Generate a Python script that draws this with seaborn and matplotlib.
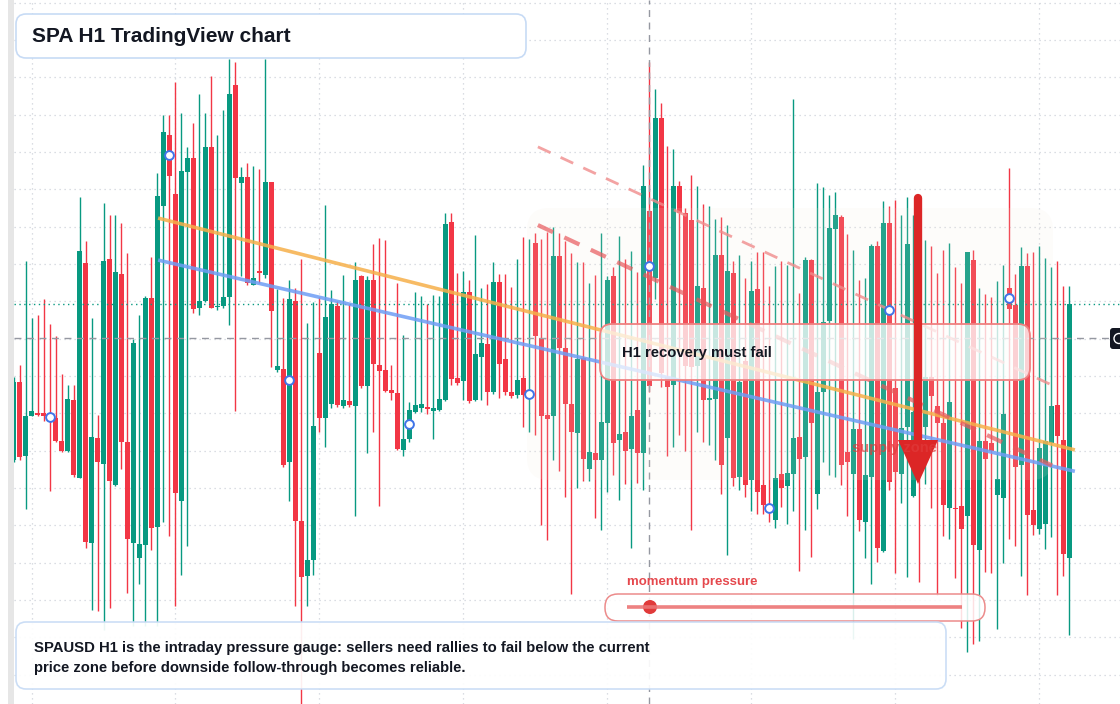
import numpy as np
import pandas as pd
import matplotlib.pyplot as plt
import seaborn as sns
from matplotlib.patches import FancyBboxPatch, Polygon, Circle, Rectangle

# ---- OHLC of the H1 candles (price units of the chart) ----
opens = [9.47, 11.47, 9.57, 10.60, 10.68, 10.68, 10.65, 10.54, 9.95, 9.70,
         11.00, 9.00, 14.52, 7.33, 10.03, 9.37, 14.63, 8.83, 14.24, 9.92,
         7.33, 6.95, 7.28, 13.63, 7.75, 16.00, 17.82, 16.30, 8.42, 16.87,
         17.22, 13.38, 13.55, 17.51, 13.39, 13.42, 13.65, 19.10, 16.59, 16.74,
         13.97, 14.29, 14.22, 16.61, 11.78, 11.80, 9.42, 13.55, 7.89, 6.48,
         6.90, 12.20, 10.55, 10.90, 13.43, 10.85, 10.98, 10.85, 14.19, 11.37,
         14.09, 11.90, 11.77, 11.26, 11.18, 9.73, 10.00, 10.70, 10.80, 10.82,
         10.73, 10.75, 11.00, 15.58, 11.58, 11.48, 13.78, 11.00, 12.12, 12.44,
         11.22, 14.04, 12.05, 11.22, 11.14, 11.57, 11.16, 15.03, 12.60, 10.63,
         10.58, 14.70, 12.33, 10.90, 10.15, 12.08, 9.24, 9.63, 9.47, 10.40,
         14.19, 9.98, 10.18, 9.75, 10.75, 9.63, 15.86, 14.14, 18.25, 11.59,
         11.38, 16.50, 15.80, 15.63, 11.88, 13.88, 11.01, 11.03, 14.73, 10.03,
         14.28, 9.02, 12.00, 8.95, 13.85, 8.83, 8.25, 7.93, 9.10, 8.80,
         9.10, 10.05, 9.55, 14.60, 8.58, 11.22, 13.03, 15.40, 15.72, 9.68,
         9.10, 10.27, 7.88, 9.02, 14.95, 7.13, 15.55, 11.30, 9.10, 10.30,
         8.53, 11.20, 10.32, 11.60, 10.85, 10.40, 8.22, 8.23, 8.28, 8.02,
         14.60, 7.15, 9.95, 9.90, 8.57, 8.48, 13.88, 13.45, 9.33, 14.45,
         8.18, 7.70, 7.82, 9.90, 10.88, 9.98, 6.95]
highs = [11.60, 11.90, 14.57, 13.11, 13.18, 13.60, 12.95, 12.65, 11.67, 11.39,
         11.39, 16.22, 15.09, 13.11, 10.62, 16.07, 15.76, 15.76, 15.55, 14.78,
         12.57, 13.19, 13.68, 14.67, 16.85, 18.32, 18.32, 19.18, 18.38, 17.50,
         18.12, 18.87, 18.38, 19.33, 17.82, 18.45, 19.78, 19.68, 17.00, 17.10,
         17.02, 16.94, 19.78, 16.61, 13.85, 13.63, 14.10, 13.88, 14.63, 12.98,
         13.52, 13.65, 16.02, 13.83, 13.55, 14.22, 13.47, 14.55, 14.22, 14.19,
         15.02, 15.17, 15.12, 11.90, 14.00, 12.67, 10.95, 13.78, 13.68, 13.47,
         13.70, 13.68, 15.80, 15.80, 14.28, 14.32, 14.08, 15.24, 13.87, 13.98,
         14.55, 14.24, 14.24, 13.90, 14.62, 15.19, 15.14, 15.30, 15.14, 15.32,
         15.44, 15.30, 15.08, 14.78, 14.55, 14.55, 14.00, 14.22, 15.30, 14.20,
         14.42, 15.22, 14.62, 14.83, 14.30, 17.04, 19.70, 19.00, 18.63, 17.53,
         17.45, 16.62, 15.95, 16.78, 16.50, 16.03, 15.98, 15.65, 15.70, 15.50,
         14.57, 14.73, 14.13, 14.57, 14.82, 14.82, 13.93, 14.45, 14.57, 14.48,
         18.73, 13.75, 14.68, 14.62, 16.58, 16.48, 16.27, 16.35, 15.77, 15.27,
         14.85, 14.10, 14.13, 15.02, 15.10, 16.13, 16.00, 16.15, 15.77, 16.22,
         15.75, 14.80, 15.12, 14.97, 14.28, 14.85, 15.05, 14.42, 14.02, 14.82,
         14.85, 13.88, 13.72, 13.64, 14.07, 14.47, 16.97, 14.23, 14.93, 14.78,
         14.82, 14.95, 14.65, 14.42, 14.57, 13.94, 13.93]
lows = [9.40, 9.47, 8.20, 10.58, 10.58, 10.47, 8.67, 9.92, 9.68, 9.68,
        9.03, 9.00, 7.20, 5.60, 5.58, 5.10, 5.67, 8.80, 9.23, 6.05,
        5.20, 6.28, 5.20, 7.15, 5.20, 7.88, 7.50, 5.70, 6.50, 7.25,
        13.25, 13.20, 13.52, 13.37, 13.32, 13.38, 12.92, 10.72, 14.20, 13.95,
        13.95, 14.00, 14.15, 11.84, 11.72, 9.28, 8.42, 5.72, 3.10, 5.72,
        6.50, 10.18, 9.80, 10.80, 10.82, 10.80, 10.82, 8.03, 11.30, 9.63,
        10.17, 8.28, 11.20, 11.00, 9.73, 9.57, 9.93, 10.68, 10.70, 10.65,
        10.00, 10.73, 10.98, 11.40, 11.40, 11.00, 10.92, 10.98, 11.00, 10.88,
        11.15, 11.05, 11.12, 11.05, 11.05, 10.30, 10.18, 10.10, 7.80, 7.40,
        9.47, 9.18, 8.50, 6.02, 8.75, 8.92, 8.92, 7.97, 7.67, 8.65,
        9.08, 8.43, 8.85, 7.20, 8.88, 8.70, 11.20, 13.60, 11.35, 9.57,
        9.80, 10.10, 9.70, 7.65, 10.18, 9.93, 9.85, 9.45, 8.60, 7.03,
        8.80, 8.70, 8.52, 8.15, 8.08, 8.08, 7.87, 7.72, 8.25, 7.82,
        8.15, 6.62, 7.65, 6.98, 8.20, 9.40, 9.07, 9.03, 8.83, 8.03,
        4.85, 7.63, 6.93, 6.28, 6.83, 7.10, 8.70, 6.55, 8.35, 6.45,
        8.50, 6.32, 8.85, 8.22, 6.00, 7.50, 7.42, 6.42, 5.15, 4.52,
        4.72, 4.80, 6.57, 6.55, 5.13, 6.82, 7.43, 7.25, 6.48, 6.00,
        7.53, 7.57, 7.18, 7.48, 5.98, 6.48, 4.97]
closes = [11.47, 9.55, 10.59, 10.72, 10.62, 10.58, 10.55, 9.95, 9.70, 11.03,
          9.08, 14.83, 7.35, 10.05, 9.42, 14.58, 8.93, 14.29, 9.93, 7.44,
          12.47, 7.30, 13.63, 7.72, 16.25, 17.89, 16.77, 8.62, 16.89, 17.22,
          13.35, 13.55, 17.51, 13.37, 13.41, 13.65, 18.87, 16.72, 16.74, 14.00,
          14.15, 14.27, 16.61, 13.28, 11.88, 9.33, 13.60, 7.90, 6.45, 6.88,
          10.33, 10.55, 13.14, 13.47, 10.88, 11.00, 10.88, 14.09, 11.37, 14.09,
          11.94, 11.75, 11.23, 11.18, 9.75, 10.00, 10.75, 10.87, 10.90, 10.76,
          10.80, 11.02, 15.53, 11.55, 11.45, 13.78, 10.98, 12.19, 12.47, 11.22,
          14.04, 11.92, 11.22, 11.10, 11.52, 11.12, 11.20, 12.65, 10.60, 10.52,
          14.70, 12.33, 10.90, 10.18, 12.05, 9.50, 9.67, 9.45, 10.43, 14.09,
          9.90, 10.12, 9.70, 10.59, 9.63, 16.50, 11.36, 18.25, 11.70, 11.34,
          16.50, 15.80, 11.88, 11.85, 13.93, 11.00, 11.03, 14.73, 9.33, 14.33,
          9.00, 11.47, 8.83, 13.80, 8.65, 8.30, 8.18, 9.00, 8.75, 9.13,
          10.03, 9.50, 14.60, 10.40, 11.20, 13.00, 15.42, 15.76, 9.33, 9.40,
          10.27, 7.93, 9.07, 14.95, 7.20, 15.55, 8.90, 9.15, 10.28, 15.02,
          10.70, 10.00, 11.60, 11.10, 10.40, 8.30, 10.95, 8.20, 7.70, 14.80,
          7.28, 9.95, 9.50, 9.70, 8.97, 10.65, 13.35, 9.28, 14.45, 8.05,
          7.78, 9.78, 9.95, 10.85, 10.08, 7.05, 13.47]

# hollow swing markers (candle index, price)
marker_idx = [6, 26, 46, 66, 86, 106, 126, 146, 166]
marker_price = [10.57, 17.30, 11.52, 10.39, 11.16, 14.45, 8.23, 13.32, 13.63]

# drawn trend lines: (candle index pair, price pair)
orange_idx, orange_price = [24.1, 176.9], [15.68, 9.72]
blue_idx, blue_price = [24.1, 176.9], [14.60, 9.17]
upper_dash_idx, upper_dash_price = [87.4, 172.9], [17.51, 11.40]
lower_dash_idx, lower_dash_price = [87.4, 173.1], [15.50, 9.32]

crosshair_idx = 106
crosshair_price = 12.59

title = "SPA H1 TradingView chart"
callout = "H1 recovery must fail"
zone_label = "supply zone"
gauge_label = "momentum pressure"
note_lines = ["SPAUSD H1 is the intraday pressure gauge: sellers need rallies to fail below the current",
              "price zone before downside follow-through becomes reliable."]

GREEN = "#089981"
RED = "#f23645"
INK = "#131722"
W, H = 1120, 704

sns.set_theme(style="white")
plt.rcParams['font.family'] = ['Liberation Sans', 'DejaVu Sans']

df = pd.DataFrame({"o": opens, "h": highs, "l": lows, "c": closes})
df["i"] = np.arange(len(df))
df["color"] = np.where(df["c"] >= df["o"], GREEN, RED)

fig = plt.figure(figsize=(W / 100, H / 100), dpi=100)
fig.patch.set_facecolor("white")
ax = fig.add_axes([14 / W, 0, (W - 14) / W, 1])
ax.set_xlim(0.083, 184.42)
ax.set_ylim(3.19, 21.285)
ax.axis("off")

# overlay in pixel coordinates for the drawings / labels
ov = fig.add_axes([0, 0, 1, 1], zorder=5)
ov.set_xlim(0, W)
ov.set_ylim(H, 0)
ov.axis("off")
ov.patch.set_alpha(0)

# grid
for k in range(3, 185, 24):
    ax.axvline(k, color="#cfd3db", lw=0.9, ls=(0, (1, 3)), zorder=0)
for n in range(-2, 18):
    ax.axhline(19.30 - 0.96 * n, color="#cfd3db", lw=0.9, ls=(0, (1, 3)), zorder=0)

# candles
ax.vlines(df["i"], df["l"], df["h"], colors=df["color"], lw=1.0, zorder=2)
ax.bar(df["i"], np.maximum((df["c"] - df["o"]).abs(), 0.04),
       bottom=np.minimum(df["o"], df["c"]), width=0.82,
       color=df["color"], linewidth=0, zorder=2.1)

# last price + crosshair
ax.axhline(closes[-1], color=GREEN, lw=1, ls=(0, (1, 2.5)), zorder=2.5)
ax.axhline(crosshair_price, color="#9598a1", lw=1, ls=(0, (5, 4)), zorder=2.5)
ax.axvline(crosshair_idx, color="#9598a1", lw=1, ls=(0, (5, 4)), zorder=2.5)

# supply zone shading
ax.add_patch(FancyBboxPatch((527, 208), 526, 272, boxstyle="round,pad=0,rounding_size=22",
                            transform=ov.transData, fc="#f3e9dc", ec="none", alpha=0.13, zorder=3))

# trend lines
ax.plot(orange_idx, orange_price, color="#f6b04a", lw=2.6, alpha=0.85, zorder=4,
        solid_capstyle="butt")
ax.plot(blue_idx, blue_price, color="#6f9ef5", lw=2.6, alpha=0.85, zorder=4,
        solid_capstyle="butt")
ax.plot(upper_dash_idx, upper_dash_price, color="#f08c8c", lw=2, alpha=0.8,
        ls=(0, (5, 4)), zorder=4)
ax.plot(lower_dash_idx, lower_dash_price, color="#e8595c", lw=3, alpha=0.7,
        ls=(0, (4, 3)), zorder=4)

# swing markers
mk = pd.DataFrame({"i": marker_idx, "p": marker_price})
sns.scatterplot(data=mk, x="i", y="p", ax=ax, s=40, marker="o",
                facecolor="white", edgecolor="#3f74e8", linewidth=1.4, zorder=6,
                legend=False)

# left strip
fig.patches.append(Rectangle((8 / W, 0), 6 / W, 1, transform=fig.transFigure,
                             fc="#e6e6e6", ec="none", zorder=0))

# title box
ov.add_patch(FancyBboxPatch((16, 14), 510, 44, boxstyle="round,pad=0,rounding_size=10",
                            fc="white", ec="#c7dbf5", lw=1.2))
ov.text(32, 36, title, fontsize=15, fontweight="bold", color=INK, va="center", ha="left")

# supply label + arrow
ov.text(852, 448, zone_label, fontsize=10.5, fontweight="bold", color="#e03b3b",
        alpha=0.7, va="center", ha="left")
ov.plot([918, 918], [198, 445], color="#dc2626", lw=6, solid_capstyle="round")
ov.add_patch(Polygon([[898, 440], [938, 440], [918, 484]], closed=True,
                     fc="#dc2626", ec="none"))

# callout box
ov.add_patch(FancyBboxPatch((600, 324), 430, 56, boxstyle="round,pad=0,rounding_size=12",
                            fc="white", ec="none", alpha=0.75))
ov.add_patch(FancyBboxPatch((600, 324), 430, 56, boxstyle="round,pad=0,rounding_size=12",
                            fc="none", ec="#ef8080", lw=1.3))
ov.text(622, 353, callout, fontsize=10.7, fontweight="bold", color=INK, va="center", ha="left")

# momentum gauge
ov.text(627, 582, gauge_label, fontsize=9.5, fontweight="bold", color="#e5484d",
        va="center", ha="left")
ov.add_patch(FancyBboxPatch((605, 594), 380, 27, boxstyle="round,pad=0,rounding_size=13",
                            fc="white", ec="none", alpha=0.85))
ov.add_patch(FancyBboxPatch((605, 594), 380, 27, boxstyle="round,pad=0,rounding_size=13",
                            fc="none", ec="#ec8b8b", lw=1.1))
ov.plot([627, 962], [607, 607], color="#ec7474", lw=2.6, alpha=0.9, solid_capstyle="butt")
ov.add_patch(Circle((650, 607), 7, fc="#e03a3a", ec="none"))

# bottom note
ov.add_patch(FancyBboxPatch((16, 622), 930, 67, boxstyle="round,pad=0,rounding_size=10",
                            fc="white", ec="#c7dbf5", lw=1.2, alpha=0.92))
ov.text(34, 648, note_lines[0], fontsize=10.7, fontweight="bold", color=INK, va="center", ha="left")
ov.text(34, 668, note_lines[1], fontsize=10.7, fontweight="bold", color=INK, va="center", ha="left")

# price scale crosshair tag (clipped at the right edge)
ov.add_patch(FancyBboxPatch((1110, 328), 20, 21, boxstyle="round,pad=0,rounding_size=3",
                            fc="#131722", ec="none"))
ov.add_patch(Circle((1119, 338.5), 5, fc="none", ec="white", lw=1))

fig.savefig("out.png", dpi=100, facecolor="white")
